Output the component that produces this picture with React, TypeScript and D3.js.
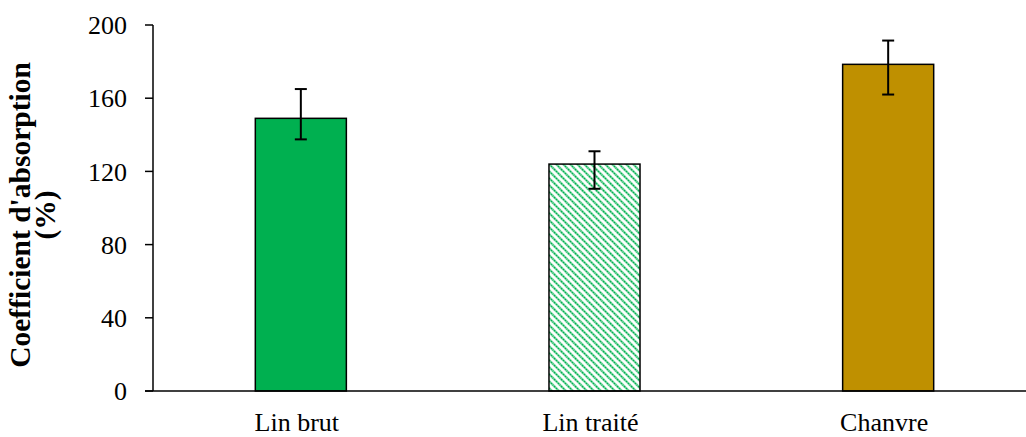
import { useMemo } from "react";
import { scaleBand, scaleLinear } from "d3";

const categories = ["Lin brut", "Lin traité", "Chanvre"];
const values = [149, 124, 178.5];
const errLow = [137.5, 110.5, 162];
const errHigh = [165, 131, 191.5];
const fills = ["#00B050", "url(#hatch)", "#BF9000"];
const yTicks = [0, 40, 80, 120, 160, 200];

const W = 1026;
const H = 437;
const axisX = 153;
const axisEnd = 1026;
const y0 = 391;
const yTop = 25;

export default function App() {
  const x = useMemo(
    () => scaleBand<string>().domain(categories).range([154, 1035]).paddingInner(0.69).paddingOuter(0.345),
    [],
  );
  const y = useMemo(() => scaleLinear().domain([0, 200]).range([y0, yTop]), []);
  const font = "'Liberation Serif', 'Times New Roman', serif";

  return (
    <svg
      width={W}
      height={H}
      style={{ position: "absolute", left: 0, top: 0, background: "#fff" }}
      fontFamily={font}
    >
      <defs>
        <pattern id="hatch" width="7" height="7" patternUnits="userSpaceOnUse">
          <rect width="7" height="7" fill="#fff" />
          <path d="M-1,-1 L8,8 M-1,6 L1,8 M6,-1 L8,1" stroke="#00B050" strokeWidth="2.2" strokeDasharray="1.6,1.2" />
          <path d="M-1,-1 L8,8 M-1,6 L1,8 M6,-1 L8,1" stroke="#5fd08f" strokeWidth="2.2" strokeDasharray="1.2,1.6" strokeDashoffset="-1.6" />
        </pattern>
      </defs>

      {/* bars */}
      {categories.map((c, i) => (
        <rect
          key={c}
          x={x(c)}
          y={y(values[i])}
          width={x.bandwidth()}
          height={y0 - y(values[i])}
          fill={fills[i]}
          stroke="#000"
          strokeWidth={1.5}
        />
      ))}

      {/* error bars */}
      {categories.map((c, i) => {
        const cx = (x(c) ?? 0) + x.bandwidth() / 2;
        return (
          <g key={c} stroke="#000" strokeWidth={2}>
            <line x1={cx} x2={cx} y1={y(errHigh[i])} y2={y(errLow[i])} />
            <line x1={cx - 6} x2={cx + 6} y1={y(errHigh[i])} y2={y(errHigh[i])} />
            <line x1={cx - 6} x2={cx + 6} y1={y(errLow[i])} y2={y(errLow[i])} />
          </g>
        );
      })}

      {/* y axis */}
      <line x1={axisX} x2={axisX} y1={yTop} y2={y0} stroke="#000" strokeWidth={1.5} />
      {yTicks.map((t) => (
        <g key={t}>
          <line x1={axisX - 8} x2={axisX} y1={y(t)} y2={y(t)} stroke="#000" strokeWidth={1.5} />
          <text x={127} y={y(t)} dy="0.35em" textAnchor="end" fontSize={26}>
            {t}
          </text>
        </g>
      ))}

      {/* x axis */}
      <line x1={axisX - 8} x2={axisEnd} y1={y0} y2={y0} stroke="#000" strokeWidth={1.5} />
      {categories.map((c) => (
        <text key={c} x={(x(c) ?? 0) + x.bandwidth() / 2 - 4} y={431} textAnchor="middle" fontSize={26}>
          {c}
        </text>
      ))}

      {/* y label */}
      <g transform="translate(30,215) rotate(-90)" fontWeight="bold" fontSize={29.5} textAnchor="middle">
        <text x={0} y={0}>Coefficient d'absorption</text>
        <text x={0} y={25}>(%)</text>
      </g>
    </svg>
  );
}
